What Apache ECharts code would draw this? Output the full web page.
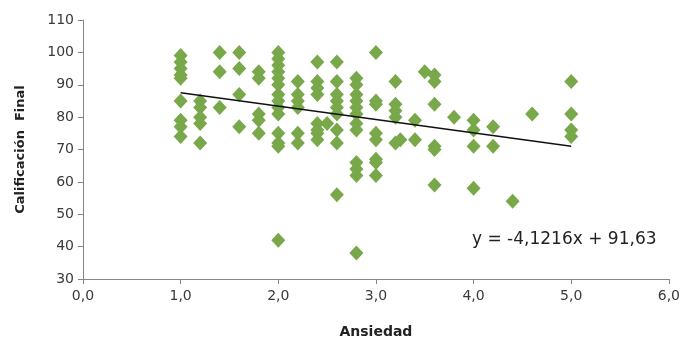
<!DOCTYPE html>
<html>
<head>
<meta charset="utf-8">
<script src="https://cdn.jsdelivr.net/npm/echarts@6/dist/echarts.min.js"></script>
<style>
  html, body { margin: 0; padding: 0; background: #fff; }
  #chart { width: 683px; height: 344px; }
</style>
</head>
<body>
<div id="chart"></div>
<script>
// one entry per score column
const ansiedadCols = [1.0, 1.2, 1.4, 1.6, 1.8, 2.0, 2.2, 2.4, 2.5, 2.6, 2.8, 3.0, 3.2, 3.25, 3.4, 3.5, 3.6, 3.8, 4.0, 4.2, 4.4, 4.6, 5.0];
const calificacionCols = [
  [99, 97, 95, 93, 92, 85, 79, 77, 74],
  [85, 83, 80, 78, 72],
  [100, 94, 83],
  [100, 95, 87, 77],
  [94, 92, 81, 79, 75],
  [100, 98, 96, 94, 92, 90, 87, 85, 83, 81, 75, 72, 71, 42],
  [91, 87, 85, 83, 75, 72],
  [97, 91, 89, 87, 78, 76, 75, 73],
  [78],
  [97, 91, 87, 85, 83, 81, 76, 72, 56],
  [92, 90, 87, 85, 83, 81, 78, 76, 66, 64, 62, 38],
  [100, 85, 84, 75, 73, 67, 66, 62],
  [91, 84, 82, 80, 72],
  [73],
  [79, 73],
  [94],
  [93, 91, 84, 71, 70, 59],
  [80],
  [79, 76, 71, 58],
  [77, 71],
  [54],
  [81],
  [91, 81, 76, 74]
];
const xTicks = [0, 1, 2, 3, 4, 5, 6];
const yTicks = [30, 40, 50, 60, 70, 80, 90, 100, 110];
const trendSlope = -4.1216;
const trendIntercept = 91.63;
const trendRange = [1, 5];

const points = [];
ansiedadCols.forEach((x, i) => {
  calificacionCols[i].forEach((y) => points.push([x, y]));
});
const trend = trendRange.map((x) => [x, trendSlope * x + trendIntercept]);

const chart = echarts.init(document.getElementById("chart"));
chart.setOption({
  animation: false,
  grid: { left: 83, right: 13, top: 20, bottom: 64 },
  xAxis: {
    type: "value",
    min: xTicks[0],
    max: xTicks[xTicks.length - 1],
    interval: 1,
    name: "Ansiedad",
    nameLocation: "middle",
    nameGap: 46,
    nameTextStyle: { fontFamily: "DejaVu Sans", fontSize: 14, fontWeight: "bold", color: "#222" },
    axisLine: { lineStyle: { color: "#868686", width: 1 } },
    axisTick: { show: true, length: 5, lineStyle: { color: "#868686" } },
    axisLabel: {
      fontFamily: "DejaVu Sans", fontSize: 14, color: "#3a3a3a", margin: 10,
      formatter: (v) => v.toFixed(1).replace(".", ",")
    },
    splitLine: { show: false }
  },
  yAxis: {
    type: "value",
    min: yTicks[0],
    max: yTicks[yTicks.length - 1],
    interval: 10,
    name: "Calificación  Final",
    nameLocation: "middle",
    nameGap: 56,
    nameRotate: 90,
    nameTextStyle: { fontFamily: "DejaVu Sans", fontSize: 13, fontWeight: "bold", color: "#222" },
    axisLine: { show: true, lineStyle: { color: "#868686", width: 1 } },
    axisTick: { show: true, length: 5, lineStyle: { color: "#868686" } },
    axisLabel: { fontFamily: "DejaVu Sans", fontSize: 14, color: "#3a3a3a", margin: 9 },
    splitLine: { show: false }
  },
  series: [
    {
      type: "scatter",
      data: points,
      symbol: "diamond",
      symbolSize: [14, 15],
      itemStyle: { color: "#78a84a", opacity: 1 }
    },
    {
      type: "line",
      data: trend,
      symbol: "none",
      lineStyle: { color: "#111", width: 1.5 },
      z: 3
    }
  ],
  graphic: [
    {
      type: "text",
      left: 472,
      top: 231,
      style: {
        text: "y = -4,1216x + 91,63",
        font: "17px 'DejaVu Sans'",
        fill: "#222"
      }
    }
  ]
});
</script>
</body>
</html>
